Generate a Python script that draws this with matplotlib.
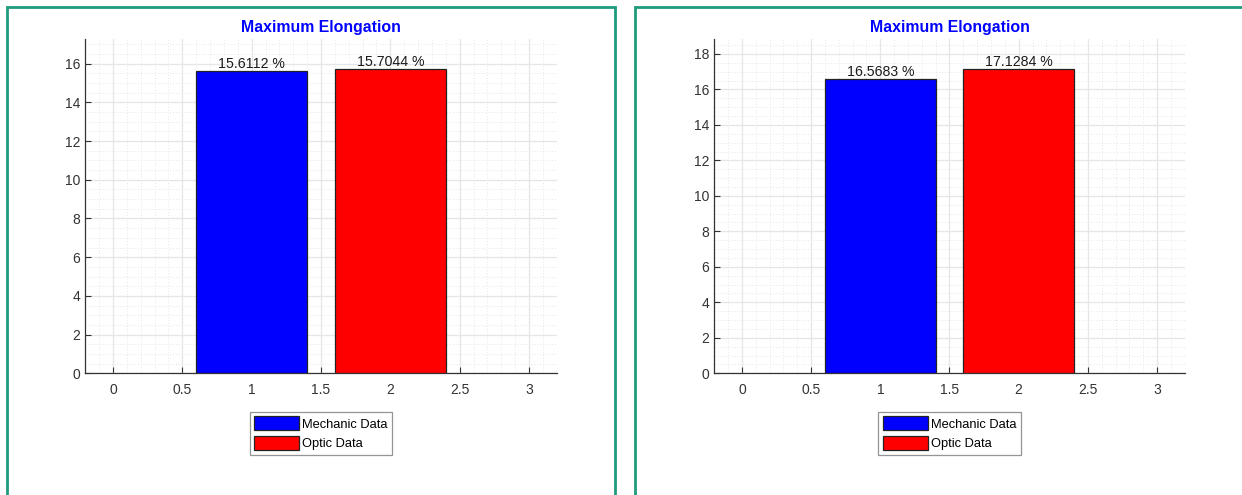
import matplotlib
matplotlib.use("Agg")
import matplotlib.pyplot as plt
from matplotlib.lines import Line2D
from matplotlib.patches import Patch
from matplotlib.ticker import MultipleLocator

plt.rcParams['font.family'] = ['Liberation Sans', 'DejaVu Sans']

# Data
title_text = "Maximum Elongation"
series_names = ["Mechanic Data", "Optic Data"]
bar_positions = [1, 2]
panel1_values = [15.6112, 15.7044]
panel2_values = [16.5683, 17.1284]
bar_colors = ["#0000ff", "#ff0000"]
x_ticks = [0, 0.5, 1, 1.5, 2, 2.5, 3]

W, H = 1242, 495
fig = plt.figure(figsize=(W / 100, H / 100), dpi=100)
fig.patch.set_facecolor("white")

frame_color = "#1f9a7c"
axis_color = "#333333"


def px(x, y):
    return x / W, 1 - y / H


def draw_frame(x0, x1, y_top, y_bot, right=True):
    xs = [x0, x0, x1] + ([x1] if right else [])
    ys = [y_bot, y_top, y_top] + ([y_bot] if right else [])
    fx = [x / W for x in xs]
    fy = [1 - y / H for y in ys]
    fig.add_artist(Line2D(fx, fy, transform=fig.transFigure,
                          color=frame_color, lw=2.0, solid_joinstyle="miter"))


def draw_panel(left_px, right_px, values):
    top_px, bot_px = 39, 373.3
    l, b = px(left_px, bot_px)
    r, t = px(right_px, top_px)
    ax = fig.add_axes([l, b, r - l, t - b])

    bars = ax.bar(bar_positions, values, width=0.8, color=bar_colors,
                  edgecolor="#222222", linewidth=0.9, zorder=3)
    for rect, v in zip(bars, values):
        ax.annotate(f"{v:.4f} %", (rect.get_x() + rect.get_width() / 2, v),
                    xytext=(0, 2.2), textcoords="offset points",
                    ha="center", va="baseline", fontsize=10.2, color="#1a1a1a",
                    zorder=4)

    ax.set_xlim(-0.2, 3.2)
    ax.set_ylim(0, max(values) * 1.1)
    ax.set_xticks(x_ticks)
    ax.set_xticklabels([f"{t:g}" for t in x_ticks])
    ax.yaxis.set_major_locator(MultipleLocator(2))
    ax.xaxis.set_minor_locator(MultipleLocator(0.1))
    ax.yaxis.set_minor_locator(MultipleLocator(0.5))

    ax.grid(which="major", color="#e6e6e6", lw=0.9, ls="-", zorder=0)
    ax.grid(which="minor", color="#e6e6e6", lw=0.7, ls=(0, (1, 2)), zorder=0)
    ax.set_axisbelow(True)

    for s in ("top", "right"):
        ax.spines[s].set_visible(False)
    for s in ("left", "bottom"):
        ax.spines[s].set_color(axis_color)
        ax.spines[s].set_linewidth(0.9)

    ax.tick_params(which="major", direction="in", length=4, width=0.8,
                   color=axis_color, labelcolor=axis_color, labelsize=10)
    ax.tick_params(axis="x", which="major", pad=7)
    ax.tick_params(axis="y", which="major", pad=3.5)
    ax.tick_params(which="minor", length=0)

    ax.set_title(title_text, color="#0000ff", fontweight="bold",
                 fontsize=11.4, pad=5)

    handles = [Patch(facecolor=c, edgecolor="#222222", lw=0.9) for c in bar_colors]
    cx = ((left_px + right_px) / 2) / W
    leg = ax.legend(handles, series_names, loc="upper center",
                    bbox_to_anchor=(cx, 1 - 412 / H),
                    bbox_transform=fig.transFigure,
                    fontsize=9.3, frameon=True, fancybox=False, shadow=False,
                    handlelength=3.5, handleheight=1.3, handletextpad=0.25,
                    labelspacing=0.42, borderpad=0.33, borderaxespad=0)
    leg.get_frame().set_edgecolor("#7a7a7a")
    leg.get_frame().set_linewidth(0.9)
    return ax


draw_frame(7, 615, 7, 500)
draw_frame(635, 1250, 7, 500, right=False)

draw_panel(85.3, 556.7, panel1_values)
draw_panel(714.3, 1184.7, panel2_values)

fig.savefig("out.png", dpi=100, facecolor="white")
